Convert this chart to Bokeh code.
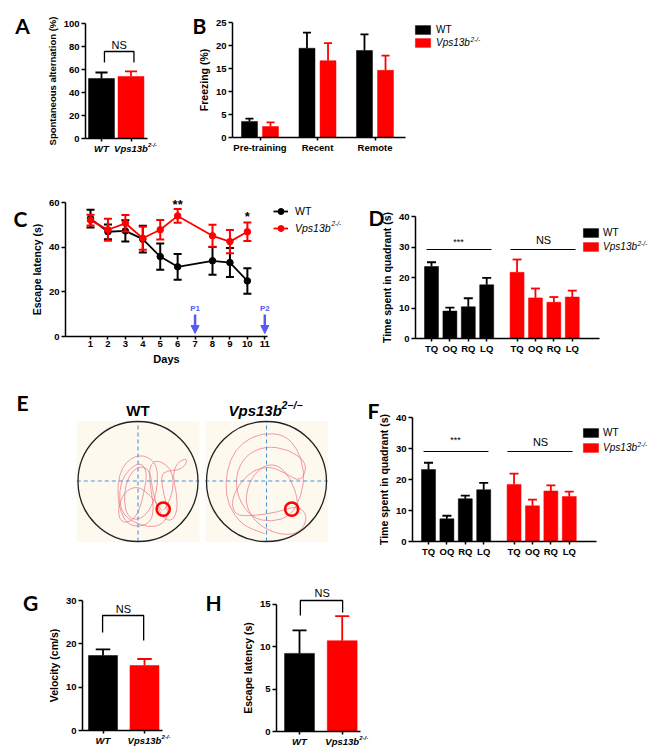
import numpy as np
from bokeh.plotting import figure
from bokeh.layouts import column, row
from bokeh.models import (Label, Legend, LegendItem, FixedTicker, Arrow, NormalHead,
                          Range1d, ColumnDataSource)
from bokeh.embed import file_html
from bokeh.resources import INLINE

FONT = "Liberation Sans"
LETTER_FONT = "Lato"
BLACK = "#000000"
RED = "#ff0000"
BLUE = "#5a5af0"
PATHC = "#ec6f7e"
DASH = "#4f94d8"
BEIGE = "#fdf9ee"

# ---------------- data ----------------
# A: spontaneous alternation
a_groups = ["WT", "Vps13b"]
a_mean = [52.2, 53.9]
a_sem = [5.2, 4.4]
# B: freezing
b_phases = ["Pre-training", "Recent", "Remote"]
b_wt = [3.5, 19.4, 18.9]
b_wt_sem = [0.6, 3.4, 3.5]
b_ko = [2.4, 16.7, 14.6]
b_ko_sem = [0.9, 3.8, 3.2]
# C: escape latency over days
c_days = [1, 2, 3, 4, 5, 6, 8, 9, 10]
c_wt = [52.8, 46.9, 47.3, 43.6, 35.8, 31.2, 33.9, 33.1, 24.9]
c_wt_sem = [4.0, 3.3, 4.8, 6.0, 5.9, 5.8, 6.2, 6.5, 5.7]
c_ko = [52.1, 47.8, 50.7, 44.0, 47.8, 54.0, 45.1, 42.5, 46.9]
c_ko_sem = [2.4, 4.9, 3.7, 5.1, 4.4, 3.1, 4.9, 5.2, 4.1]
c_tick_days = list(range(1, 12))
c_probe_days = [7, 11]
c_probe_labels = ["P1", "P2"]
c_sig_days = [6, 10]
c_sig_labels = ["**", "*"]
# D / F: time in quadrant
quadrants = ["TQ", "OQ", "RQ", "LQ"]
d_wt = [23.6, 9.0, 10.4, 17.6]
d_wt_sem = [1.4, 1.1, 2.8, 2.3]
d_ko = [21.7, 13.3, 11.9, 13.6]
d_ko_sem = [4.2, 3.1, 1.7, 2.1]
f_wt = [23.2, 7.3, 13.8, 16.7]
f_wt_sem = [2.2, 1.0, 1.0, 2.2]
f_ko = [18.4, 11.5, 16.3, 14.5]
f_ko_sem = [3.5, 2.0, 1.8, 1.6]
# G: velocity
g_mean = [17.3, 15.0]
g_sem = [1.4, 1.5]
# H: escape latency (visible platform)
h_mean = [9.2, 10.7]
h_sem = [2.7, 2.9]
# E: swim paths, pool radius = 1
e_wt_x = [0.433, 0.544, 0.600, 0.544, 0.406, 0.267, 0.183, 0.211, 0.267, 0.211, 0.017, -0.178,
          -0.289, -0.344, -0.317, -0.206, -0.011, 0.183, 0.311, 0.333, 0.267, 0.128, -0.039,
          -0.178, -0.233, -0.206, -0.094, 0.072, 0.211, 0.239, 0.378, 0.544, 0.656, 0.644,
          0.572, 0.656, 0.822, 0.794, 0.656, 0.489, 0.378, 0.433, 0.517, 0.378, 0.156, -0.067,
          -0.233, -0.317, -0.289, -0.150, 0.044, 0.156, 0.100, 0.017, -0.122, -0.289, -0.344,
          -0.233, -0.011, 0.211, 0.350, 0.406]
e_wt_y = [-0.483, -0.289, -0.011, 0.211, 0.322, 0.350, 0.211, -0.122, -0.456, -0.678, -0.761,
          -0.706, -0.511, -0.233, 0.100, 0.322, 0.444, 0.406, 0.267, -0.011, -0.344, -0.567,
          -0.650, -0.567, -0.344, -0.039, 0.183, 0.267, 0.156, -0.178, -0.567, -0.678, -0.511,
          -0.178, 0.100, 0.322, 0.389, 0.267, 0.183, 0.183, 0.100, -0.233, -0.567, -0.733,
          -0.761, -0.678, -0.567, -0.344, -0.011, 0.211, 0.322, 0.156, -0.178, -0.511, -0.678,
          -0.678, -0.456, -0.178, -0.067, -0.233, -0.428, -0.483]
e_ko_x = [-0.03, -0.41, -0.64, -0.69, -0.61, -0.41, -0.08, 0.30, 0.52, 0.64, 0.58, 0.41, 0.08,
          -0.25, -0.47, -0.52, -0.36, -0.03, 0.36, 0.69, 0.58, 0.30, 0.03, -0.30, -0.58, -0.55,
          -0.19, 0.19, 0.52, 0.69, 0.58, 0.25, -0.14, -0.36, -0.30, -0.08, 0.19, 0.41, 0.52, 0.50]
e_ko_y = [-0.87, -0.73, -0.40, -0.02, 0.37, 0.65, 0.81, 0.78, 0.54, 0.15, -0.24, -0.57, -0.68,
          -0.60, -0.29, 0.09, 0.43, 0.59, 0.54, 0.31, -0.02, 0.15, 0.26, 0.15, -0.24, -0.57,
          -0.57, -0.51, -0.40, -0.57, -0.85, -0.90, -0.73, -0.40, -0.02, 0.26, 0.29, 0.04, -0.29, -0.48]
e_platform_x = 0.42
e_platform_y = -0.46


# ---------------- helpers ----------------
def make_fig(x0, y0, w, h, fl, fb, xref_px, xref_val, sx, sy, axes=True):
    def X(px):
        return xref_val + (px - xref_px) / sx

    def Y(py):
        return (fb - py) / sy
    p = figure(width=w, height=h, output_backend="svg", toolbar_location=None,
               x_range=Range1d(X(x0), X(x0 + w)), y_range=Range1d(Y(y0 + h), Y(y0)),
               min_border=0, min_border_left=0, min_border_right=0,
               min_border_top=0, min_border_bottom=0)
    p.outline_line_color = None
    p.grid.visible = False
    if axes:
        p.yaxis[0].fixed_location = X(fl)
        p.xaxis[0].fixed_location = 0
    else:
        p.axis.visible = False
    return p, X, Y


def style_axes(p, xb, yb, xticks, yticks, overrides=None, xstyle="bold",
               ylabel="", xlabel=None, ysize="10.5px"):
    xa, ya = p.xaxis[0], p.yaxis[0]
    for ax in (xa, ya):
        ax.axis_line_width = 1.5
        ax.axis_line_color = BLACK
        ax.major_tick_line_width = 1.5
        ax.major_tick_line_color = BLACK
        ax.major_tick_out = 4
        ax.major_tick_in = 0
        ax.minor_tick_line_color = None
        ax.major_label_text_font = FONT
        ax.major_label_text_font_style = "bold"
        ax.major_label_text_font_size = "9.5px"
        ax.major_label_text_color = BLACK
        ax.major_label_standoff = 2
        ax.axis_label_text_font = FONT
        ax.axis_label_text_font_style = "bold"
        ax.axis_label_text_font_size = "10.5px"
        ax.axis_label_text_color = BLACK
        ax.axis_label_standoff = 3
    xa.bounds = xb
    ya.bounds = yb
    xa.ticker = FixedTicker(ticks=xticks)
    ya.ticker = FixedTicker(ticks=yticks)
    xa.major_tick_out = 3
    xa.major_label_standoff = 1
    if overrides:
        xa.major_label_overrides = overrides
    xa.major_label_text_font_style = xstyle
    ya.axis_label = ylabel
    ya.axis_label_text_font_size = ysize
    if xlabel:
        xa.axis_label = xlabel


def bars(p, xs, tops, errs, width, color, capw, lw=1.8):
    r = p.vbar(x=xs, top=tops, bottom=0, width=width, fill_color=color, line_color=color, line_width=0.5)
    ends = [t + e for t, e in zip(tops, errs)]
    p.segment(x0=xs, y0=tops, x1=xs, y1=ends, line_color=color, line_width=lw)
    p.segment(x0=[x - capw / 2 for x in xs], y0=ends, x1=[x + capw / 2 for x in xs], y1=ends,
              line_color=color, line_width=lw)
    return r


def label(p, x, y, text, size, color=BLACK, style="normal", font=FONT, align="center", baseline="middle"):
    p.add_layout(Label(x=x, y=y, text=text, text_font=font, text_font_size=size,
                       text_font_style=style, text_color=color, text_align=align,
                       text_baseline=baseline))


def legend(p, renderers, text, vx, vy, gw, gh, standoff, size, italic=False):
    leg = Legend(items=[LegendItem(label=text, renderers=renderers)], location=(vx, vy),
                 orientation="vertical", padding=0, margin=0, spacing=0,
                 glyph_width=gw, glyph_height=gh, label_height=gh, label_standoff=standoff,
                 border_line_color=None, background_fill_alpha=0,
                 label_text_font=FONT, label_text_font_size=size,
                 label_text_font_style="italic" if italic else "normal",
                 label_text_color=BLACK)
    p.add_layout(leg)


def bracket(p, xl, xr, ytop, yl, yr):
    p.line(x=[xl, xl, xr, xr], y=[yl, ytop, ytop, yr], line_color=BLACK, line_width=1.3)


# ---------------- A ----------------
pa, Xa, Ya = make_fig(0, 0, 190, 172, 85, 138, 101, 1, 29.5, 1.15)
style_axes(pa, (Xa(85), Xa(147)), (0, 100), [1, 2], [0, 20, 40, 60, 80, 100],
           overrides={1: a_groups[0], 2: a_groups[1]}, xstyle="bold italic",
           ylabel="Spontaneous alternation (%)", ysize="9.5px")
bars(pa, [1], a_mean[:1], a_sem[:1], 0.88, BLACK, 0.41)
bars(pa, [2], a_mean[1:], a_sem[1:], 0.88, RED, 0.41)
bracket(pa, 1.1, 2.1, Ya(51), Ya(62), Ya(62))
label(pa, 1.6, Ya(44), "NS", "11px")
label(pa, 2 + 17 / 29.5, Ya(144), "2-/-", "6px", style="bold italic", align="left")
label(pa, Xa(22), Ya(25), "A", "21px", style="bold", font=LETTER_FONT)

# ---------------- B ----------------
pb, Xb, Yb = make_fig(190, 0, 481, 172, 232, 137, 259.5, 1, 57.5, 4.6)
style_axes(pb, (Xb(232), Xb(405)), (0, 25), [1, 2, 3], [0, 5, 10, 15, 20, 25],
           overrides={i + 1: s for i, s in enumerate(b_phases)}, ylabel="Freezing (%)")
gx = [1, 2, 3]
rb1 = bars(pb, [g - 0.183 for g in gx], b_wt, b_wt_sem, 0.278, BLACK, 0.14)
rb2 = bars(pb, [g + 0.183 for g in gx], b_ko, b_ko_sem, 0.278, RED, 0.14)
legend(pb, [rb1], "WT", 223, 137.5, 19, 11, 4, "10px")
legend(pb, [rb2], "Vps13b", 223, 124, 19, 11, 4, "10px", italic=True)
label(pb, Xb(470), Yb(39), "2-/-", "6.5px", style="italic", align="left")
label(pb, Xb(199), Yb(25), "B", "21px", style="bold", font=LETTER_FONT)

# ---------------- C ----------------
pc, Xc, Yc = make_fig(0, 172, 350, 216, 65, 336, 90, 1, 17.43, 2.233)
style_axes(pc, (Xc(65), Xc(267)), (0, 60), c_tick_days, [0, 20, 40, 60],
           ylabel="Escape latency (s)", xlabel="Days")
pc.xaxis[0].axis_label_text_font_size = "11px"
capw = 0.46
crs = []
for ser, sem, colr in ((c_wt, c_wt_sem, BLACK), (c_ko, c_ko_sem, RED)):
    lo = [m - s for m, s in zip(ser, sem)]
    hi = [m + s for m, s in zip(ser, sem)]
    ln = pc.line(c_days, ser, line_color=colr, line_width=1.8)
    pc.segment(c_days, lo, c_days, hi, line_color=colr, line_width=2)
    pc.segment([d - capw / 2 for d in c_days], hi, [d + capw / 2 for d in c_days], hi, line_color=colr, line_width=2)
    pc.segment([d - capw / 2 for d in c_days], lo, [d + capw / 2 for d in c_days], lo, line_color=colr, line_width=2)
    sc = pc.scatter(c_days, ser, size=6.5, marker="circle", fill_color=colr, line_color=colr)
    crs.append([ln, sc])
legend(pc, crs[0], "WT", 273, 169, 15, 16, 7, "10.5px")
legend(pc, crs[1], "Vps13b", 273, 152, 15, 16, 7, "10.5px", italic=True)
label(pc, Xc(331), Yc(223), "2-/-", "6.5px", style="italic", align="left")
for d, s in zip(c_sig_days, c_sig_labels):
    label(pc, d, Yc(204) if s == "**" else Yc(216), s, "13px", style="bold")
for d, s in zip(c_probe_days, c_probe_labels):
    label(pc, d, Yc(308), s, "8px", color=BLUE, style="bold")
pc.add_layout(Arrow(source=ColumnDataSource(dict(x=c_probe_days)), x_start="x", x_end="x",
                    y_start=Yc(314), y_end=Yc(333), line_color=BLUE, line_width=2.5,
                    end=NormalHead(size=8, fill_color=BLUE, line_color=BLUE)))
label(pc, Xc(20), Yc(218), "C", "21px", style="bold", font=LETTER_FONT)

# ---------------- D / F ----------------
q_ticks = [1, 2, 3, 4, 5.65, 6.65, 7.65, 8.65]
q_over = {t: q for t, q in zip(q_ticks, quadrants * 2)}


def quad_panel(x0, y0, w, h, fl, fb, sy, wt, wts, ko, kos, ysig, ystar, yns, leg_bottoms, letter, ly):
    p, X, Y = make_fig(x0, y0, w, h, fl, fb, fl + 16, 1, 18.4, sy)
    style_axes(p, (X(fl), X(fl + 184)), (0, 40), q_ticks, [0, 10, 20, 30, 40],
               overrides=q_over, ylabel="Time spent in quadrant (s)")
    r1 = bars(p, q_ticks[:4], wt, wts, 0.76, BLACK, 0.49)
    r2 = bars(p, q_ticks[4:], ko, kos, 0.76, RED, 0.49)
    ys = Y(ysig)
    p.line([0.73, 4.26], [ys, ys], line_color=BLACK, line_width=1.2)
    p.line([5.29, 8.83], [ys, ys], line_color=BLACK, line_width=1.2)
    label(p, 2.47, Y(ystar), "***", "9px")
    label(p, 7.09, Y(yns), "NS", "11px")
    vx = 583 - 1.9 - x0
    legend(p, [r1], "WT", vx, y0 + h - leg_bottoms[0], 19, 11, 3, "10px")
    legend(p, [r2], "Vps13b", vx, y0 + h - leg_bottoms[1], 19, 11, 3, "10px", italic=True)
    label(p, X(637), Y(leg_bottoms[1] - 9.5), "2-/-", "6.5px", style="italic", align="left")
    label(p, X(fl - 39), Y(ly), letter, "21px", style="bold", font=LETTER_FONT)
    return p


pd_ = quad_panel(350, 172, 321, 216, 415, 338, 3.05, d_wt, d_wt_sem, d_ko, d_ko_sem,
                 249, 241, 239, (237.5, 252), "D", 217)
pf = quad_panel(338, 388, 333, 190, 412, 541, 3.1, f_wt, f_wt_sem, f_ko, f_ko_sem,
                451, 439, 441, (437.5, 453), "F", 410)

# ---------------- E ----------------
pe, EX, EY = make_fig(0, 388, 338, 190, 0, 481, 137.5, 0, 60, 60, axes=False)
pool_cx = [0.0, EX(266)]
pe.rect(x=pool_cx, y=[0, 0], width=2.05, height=2.02, fill_color=BEIGE, line_color=None)
for cx, px, py in ((pool_cx[0], e_wt_x, e_wt_y), (pool_cx[1], e_ko_x, e_ko_y)):
    xs = np.array(px) + cx
    ys = np.array(py)
    mx = (xs[:-1] + xs[1:]) / 2
    my = (ys[:-1] + ys[1:]) / 2
    pe.quadratic(x0=mx[:-1], y0=my[:-1], x1=mx[1:], y1=my[1:], cx=xs[1:-1], cy=ys[1:-1],
                 line_color=PATHC, line_width=0.7)
    pe.segment([xs[0], mx[-1]], [ys[0], my[-1]], [mx[0], xs[-1]], [my[0], ys[-1]],
               line_color=PATHC, line_width=0.7)
for cx in pool_cx:
    pe.line([cx, cx], [-1.0, 1.0], line_color=DASH, line_width=1.1, line_dash="4 3")
    pe.line([cx - 1.02, cx + 1.02], [0.008, 0.008], line_color=DASH, line_width=1.1, line_dash="4 3")
pe.circle(x=pool_cx, y=[0, 0], radius=1.0, fill_color=None, line_color="#222222", line_width=1.3)
pe.circle(x=[c + e_platform_x for c in pool_cx], y=[e_platform_y, e_platform_y], radius=0.11,
          fill_color=None, line_color=RED, line_width=2.5)
label(pe, pool_cx[0], EY(410), "WT", "15px", style="bold")
label(pe, EX(228), EY(410), "Vps13b", "15px", style="bold italic", align="left")
label(pe, EX(281), EY(404), "2\u2212/\u2212", "10.5px", style="bold italic", align="left")
label(pe, EX(22), EY(402), "E", "21px", style="bold", font=LETTER_FONT)

# ---------------- G ----------------
pg, Xg, Yg = make_fig(0, 578, 200, 174, 82, 730, 102.5, 1, 41.5, 4.333)
style_axes(pg, (Xg(82), Xg(162)), (0, 30), [1, 2], [0, 10, 20, 30],
           overrides={1: a_groups[0], 2: a_groups[1]}, xstyle="bold italic",
           ylabel="Velocity (cm/s)")
bars(pg, [1], g_mean[:1], g_sem[:1], 0.7, BLACK, 0.35)
bars(pg, [2], g_mean[1:], g_sem[1:], 0.7, RED, 0.35)
bracket(pg, 0.99, 1.98, Yg(615), Yg(632), Yg(640))
label(pg, 1.49, Yg(608), "NS", "11px")
label(pg, 2 + 17 / 41.5, Yg(736), "2-/-", "6px", style="bold italic", align="left")
label(pg, Xg(30), Yg(602), "G", "21px", style="bold", font=LETTER_FONT)

# ---------------- H ----------------
ph, Xh, Yh = make_fig(200, 578, 471, 174, 276, 731, 299, 1, 42.7, 8.49)
style_axes(ph, (Xh(276), Xh(360)), (0, 15), [1, 2], [0, 5, 10, 15],
           overrides={1: a_groups[0], 2: a_groups[1]}, xstyle="bold italic",
           ylabel="Escape latency (s)")
bars(ph, [1], h_mean[:1], h_sem[:1], 0.70, BLACK, 0.33)
bars(ph, [2], h_mean[1:], h_sem[1:], 0.70, RED, 0.33)
bracket(ph, 1.02, 2.01, Yh(600), Yh(615), Yh(612))
label(ph, 1.53, Yh(592), "NS", "11px")
label(ph, 2 + 17 / 42.7, Yh(737), "2-/-", "6px", style="bold italic", align="left")
label(ph, Xh(213), Yh(602), "H", "21px", style="bold", font=LETTER_FONT)

layout = column(row(pa, pb), row(pc, pd_), row(pe, pf), row(pg, ph))
open("out.html", "w").write(file_html(layout, INLINE))
